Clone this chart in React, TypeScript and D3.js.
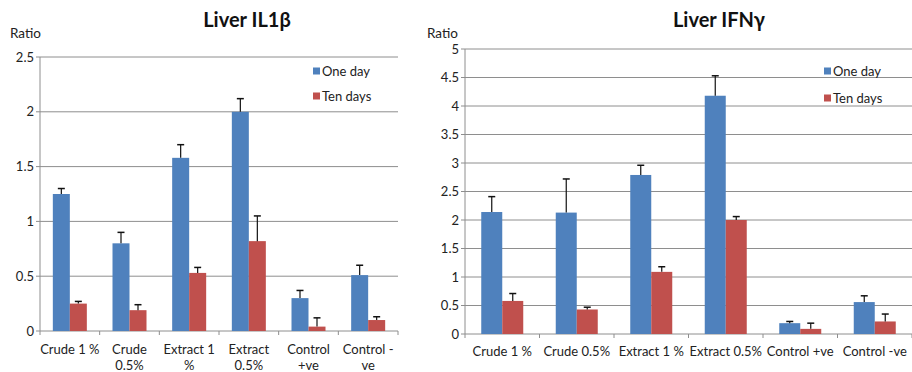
import React from 'react';
import * as d3 from 'd3';

// left chart: Liver IL1β
const ilCategories = [['Crude 1 %'], ['Crude', '0.5%'], ['Extract 1', '%'], ['Extract', '0.5%'], ['Control', '+ve'], ['Control -', 've']];
const ilOneDay = [1.25, 0.8, 1.58, 2.0, 0.3, 0.51];
const ilOneDayErr = [0.05, 0.1, 0.12, 0.12, 0.07, 0.09];
const ilTenDays = [0.25, 0.19, 0.53, 0.82, 0.04, 0.1];
const ilTenDaysErr = [0.02, 0.05, 0.05, 0.23, 0.08, 0.03];
const ilTicks = [0, 0.5, 1, 1.5, 2, 2.5];

// right chart: Liver IFNγ
const ifCategories = [['Crude 1 %'], ['Crude 0.5%'], ['Extract 1 %'], ['Extract 0.5%'], ['Control +ve'], ['Control -ve']];
const ifOneDay = [2.14, 2.13, 2.79, 4.18, 0.19, 0.56];
const ifOneDayErr = [0.27, 0.59, 0.17, 0.35, 0.03, 0.11];
const ifTenDays = [0.58, 0.43, 1.09, 2.0, 0.09, 0.22];
const ifTenDaysErr = [0.13, 0.04, 0.09, 0.06, 0.1, 0.13];
const ifTicks = [0, 0.5, 1, 1.5, 2, 2.5, 3, 3.5, 4, 4.5, 5];

const seriesNames = ['One day', 'Ten days'];
const colors = ['#4f81bd', '#c0504d'];
const font = 'Lato, "Open Sans", sans-serif';
const grid = '#8e8e8e';

type ChartProps = {
  title: string;
  cats: string[][];
  one: number[];
  oneErr: number[];
  ten: number[];
  tenErr: number[];
  ticks: number[];
  x0: number; x1: number; y0: number; y1: number;
  barW: number;
  titleX: number;
  ratioX: number;
  legendX: number;
  legendY: number[];
  labelY: number;
};

function Chart(p: ChartProps) {
  const yMax = p.ticks[p.ticks.length - 1];
  const y = d3.scaleLinear().domain([0, yMax]).range([p.y0, p.y1]);
  const x = d3.scaleBand<number>().domain(d3.range(p.cats.length)).range([p.x0, p.x1]);
  const series = [
    { v: p.one, e: p.oneErr },
    { v: p.ten, e: p.tenErr },
  ];
  const bw = x.bandwidth();

  return (
    <g fontFamily={font}>
      <text x={p.titleX} y={27} textAnchor="middle" fontSize={20} fontWeight="bold" fill="#111">{p.title}</text>
      <text x={p.ratioX} y={38} fontSize={13.5} fill="#222">Ratio</text>
      {/* gridlines + y ticks */}
      {p.ticks.map(t => (
        <g key={t} transform={`translate(0,${y(t)})`}>
          <line x1={p.x0} x2={p.x1} stroke={grid} strokeWidth={1} />
          <line x1={p.x0 - 4} x2={p.x0} stroke={grid} />
          <text x={p.x0 - 6} dy="0.35em" textAnchor="end" fontSize={13} fill="#222">{t}</text>
        </g>
      ))}
      <line x1={p.x0} x2={p.x0} y1={p.y1} y2={p.y0} stroke={grid} />
      {/* x ticks */}
      {d3.range(p.cats.length + 1).map(i => {
        const xx = i < p.cats.length ? x(i)! : p.x1;
        return <line key={i} x1={xx} x2={xx} y1={p.y0} y2={p.y0 + 4} stroke={grid} />;
      })}
      {/* bars */}
      {p.cats.map((c, i) => {
        const cx = x(i)! + bw / 2;
        return (
          <g key={i}>
            {series.map((s, k) => {
              const bx = cx - p.barW + k * p.barW;
              const top = y(s.v[i]);
              const et = y(s.v[i] + s.e[i]);
              const mx = bx + p.barW / 2;
              return (
                <g key={k}>
                  <rect x={bx} y={top} width={p.barW} height={p.y0 - top} fill={colors[k]} />
                  <line x1={mx} x2={mx} y1={top} y2={et} stroke="#111" strokeWidth={1.2} />
                  <line x1={mx - 3.5} x2={mx + 3.5} y1={et} y2={et} stroke="#111" strokeWidth={1.5} />
                </g>
              );
            })}
            <text x={cx} y={p.labelY} textAnchor="middle" fontSize={13} fill="#222">
              {c.map((ln, j) => (
                <tspan key={j} x={cx} dy={j === 0 ? 0 : 16}>{ln}</tspan>
              ))}
            </text>
          </g>
        );
      })}
      {/* legend */}
      {seriesNames.map((n, k) => (
        <g key={n} transform={`translate(${p.legendX},${p.legendY[k]})`}>
          <rect x={0} y={-3.5} width={7} height={7} fill={colors[k]} />
          <text x={9} dy="0.35em" fontSize={13} fill="#222">{n}</text>
        </g>
      ))}
    </g>
  );
}

export default function App() {
  return (
    <svg width={912} height={372} style={{ position: 'absolute', left: 0, top: 0, background: '#fff' }}>
      <rect width={912} height={372} fill="#fff" />
      <Chart
        title="Liver IL1β" cats={ilCategories}
        one={ilOneDay} oneErr={ilOneDayErr} ten={ilTenDays} tenErr={ilTenDaysErr}
        ticks={ilTicks}
        x0={40} x1={398} y0={331} y1={57} barW={17}
        titleX={247} ratioX={10} legendX={313} legendY={[71, 96]} labelY={354}
      />
      <Chart
        title="Liver IFNγ" cats={ifCategories}
        one={ifOneDay} oneErr={ifOneDayErr} ten={ifTenDays} tenErr={ifTenDaysErr}
        ticks={ifTicks}
        x0={465} x1={912} y0={334} y1={49} barW={21}
        titleX={719} ratioX={427} legendX={824} legendY={[71, 98]} labelY={356}
      />
    </svg>
  );
}
